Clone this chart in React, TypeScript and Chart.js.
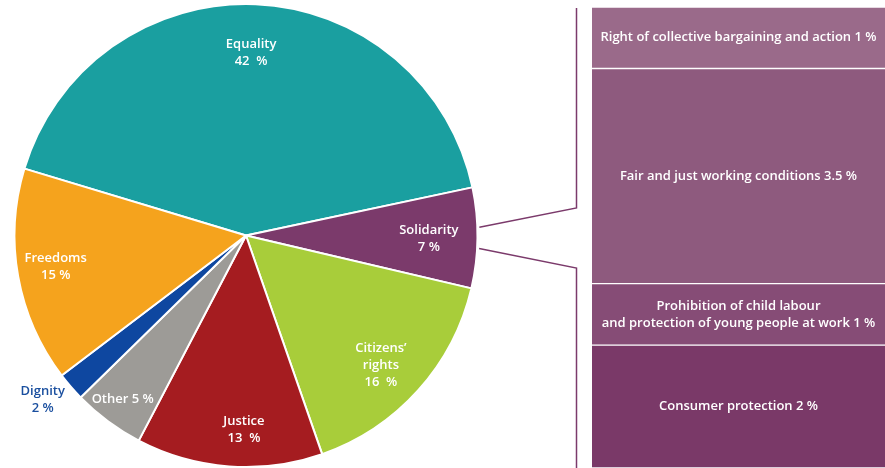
import React, { useEffect, useRef } from 'react';
import { Chart, registerables } from 'chart.js';
Chart.register(...registerables);

const pieCategories = ['Equality', 'Solidarity', "Citizens' rights", 'Justice', 'Other', 'Dignity', 'Freedoms'];
const pieValues = [42, 7, 16, 13, 5, 2, 15];
const pieLabelLines = [
  ['Equality', '42  %'],
  ['Solidarity', '7 %'],
  ['Citizens’', 'rights', '16  %'],
  ['Justice', '13  %'],
  ['Other 5 %'],
  ['Dignity', '2 %'],
  ['Freedoms', '15 %'],
];
const pieColors = ['#1a9fa0', '#7b3a6b', '#a8cd3a', '#a51c20', '#9d9b97', '#0e47a0', '#f5a31d'];
const pieLabelColors = ['#ffffff', '#ffffff', '#ffffff', '#ffffff', '#ffffff', '#1a4f9f', '#ffffff'];

const subCategories = [
  'Consumer protection',
  'Prohibition of child labour and protection of young people at work',
  'Fair and just working conditions',
  'Right of collective bargaining and action',
];
const subValues = [2, 1, 3.5, 1];
const subLabelLines = [
  ['Consumer protection 2 %'],
  ['Prohibition of child labour', 'and protection of young people at work 1 %'],
  ['Fair and just working conditions 3.5 %'],
  ['Right of collective bargaining and action 1 %'],
];
const subColors = ['#7a3968', '#864c76', '#8e5a7e', '#9a6a8a'];

// label placement: [radius factor, angle offset in degrees]
const labelPlacement = [[0.79, -0.8], [0.79, 0.3], [0.81, 2], [0.84, -3.6], [0.885, 0.4], [1.13, 1.8], [0.833, 0.9]];

const FONT = '600 13px "Open Sans", Lato, sans-serif';
const LINE_COLOR = '#7b3a6b';

export default function App() {
  const pieRef = useRef<HTMLCanvasElement>(null);
  const barRef = useRef<HTMLCanvasElement>(null);

  useEffect(() => {
    const pieLabelsPlugin = {
      id: 'pieLabels',
      afterDatasetsDraw(chart: any) {
        const ctx = chart.ctx;
        const meta = chart.getDatasetMeta(0);
        ctx.save();
        ctx.font = FONT;
        ctx.textAlign = 'center';
        ctx.textBaseline = 'middle';
        meta.data.forEach((arc: any, i: number) => {
          const { x, y, startAngle, endAngle, outerRadius } = arc.getProps(['x', 'y', 'startAngle', 'endAngle', 'outerRadius'], true);
          const [rf, off] = labelPlacement[i];
          const a = (startAngle + endAngle) / 2 + (off * Math.PI) / 180;
          const cx = x + Math.cos(a) * outerRadius * rf;
          const cy = y + Math.sin(a) * outerRadius * rf;
          const lines = pieLabelLines[i];
          const lh = 17;
          ctx.fillStyle = pieLabelColors[i];
          lines.forEach((t, k) => {
            ctx.fillText(t, cx, cy + (k - (lines.length - 1) / 2) * lh);
          });
        });
        // connectors from Solidarity slice to breakdown bar
        const arc: any = meta.data[1];
        const { x, y, startAngle, endAngle, outerRadius } = arc.getProps(['x', 'y', 'startAngle', 'endAngle', 'outerRadius'], true);
        const mid = (startAngle + endAngle) / 2;
        const a1 = mid - (2.6 * Math.PI) / 180;
        const a2 = mid + (2.6 * Math.PI) / 180;
        const r = outerRadius + 2;
        const vx = 576.5;
        ctx.strokeStyle = LINE_COLOR;
        ctx.lineWidth = 1.5;
        ctx.beginPath();
        ctx.moveTo(x + Math.cos(a1) * r, y + Math.sin(a1) * r);
        ctx.lineTo(vx, 208);
        ctx.lineTo(vx, 8);
        ctx.moveTo(x + Math.cos(a2) * r, y + Math.sin(a2) * r);
        ctx.lineTo(vx, 268);
        ctx.lineTo(vx, 468);
        ctx.stroke();
        ctx.restore();
      },
    };

    const pie = new Chart(pieRef.current!, {
      type: 'pie',
      data: {
        labels: pieCategories,
        datasets: [
          {
            data: pieValues,
            backgroundColor: pieColors,
            borderColor: '#ffffff',
            borderWidth: 2,
          },
        ],
      },
      options: {
        responsive: false,
        animation: false,
        rotation: -73.2,
        layout: { padding: { left: 12.5, right: 405.5, top: 3, bottom: -2 } },
        plugins: { legend: { display: false }, tooltip: { enabled: false } },
      },
      plugins: [pieLabelsPlugin],
    });

    const barLabelsPlugin = {
      id: 'barLabels',
      afterDatasetsDraw(chart: any) {
        const ctx = chart.ctx;
        ctx.save();
        ctx.font = FONT;
        ctx.textAlign = 'center';
        ctx.textBaseline = 'middle';
        ctx.fillStyle = '#ffffff';
        chart.data.datasets.forEach((_: any, i: number) => {
          const el: any = chart.getDatasetMeta(i).data[0];
          const { x, y, base } = el.getProps(['x', 'y', 'base'], true);
          const cy = (y + base) / 2;
          const lines = subLabelLines[i];
          const lh = 17;
          lines.forEach((t, k) => ctx.fillText(t, x, cy + (k - (lines.length - 1) / 2) * lh));
        });
        ctx.restore();
      },
    };

    const bar = new Chart(barRef.current!, {
      type: 'bar',
      data: {
        labels: ['Solidarity'],
        datasets: subCategories.map((c, i) => ({
          label: c,
          data: [subValues[i]],
          backgroundColor: subColors[i],
          borderColor: '#ffffff',
          borderWidth: { top: 1, bottom: 1, left: 0, right: 0 },
          borderSkipped: false,
          barPercentage: 1,
          categoryPercentage: 1,
        })),
      },
      options: {
        responsive: false,
        animation: false,
        layout: { padding: 0 },
        scales: {
          x: { stacked: true, display: false },
          y: { stacked: true, display: false, min: 0, max: 7.5 },
        },
        plugins: { legend: { display: false }, tooltip: { enabled: false } },
      },
      plugins: [barLabelsPlugin],
    });

    return () => {
      pie.destroy();
      bar.destroy();
    };
  }, []);

  return (
    <div style={{ position: 'fixed', left: 0, top: 0, width: 885, height: 468, background: '#ffffff' }}>
      <canvas ref={pieRef} width={885} height={468} style={{ position: 'absolute', left: 0, top: 0, width: 885, height: 468 }} />
      <canvas ref={barRef} width={293} height={461} style={{ position: 'absolute', left: 592, top: 7, width: 293, height: 461 }} />
    </div>
  );
}
